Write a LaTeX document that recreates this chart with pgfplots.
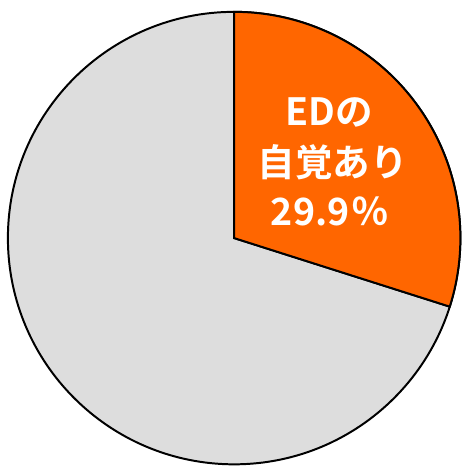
\documentclass[border=0pt]{standalone}
\usepackage{pgfplots}
\usepackage{pgfplotstable}
\usepackage{fontspec}
\pgfplotsset{compat=1.18}
\newfontfamily\jpfont{Noto Sans CJK JP}[BoldFont=* Bold]
\definecolor{edorange}{HTML}{FF6600}
\definecolor{edgray}{HTML}{DDDDDD}

% share of answers, in percent
\pgfplotstableread{
label value
yes 29.9
no 70.1
}\piedata
\pgfplotstablegetelem{0}{value}\of\piedata
\let\yesval\pgfplotsretval

\begin{document}
\begin{tikzpicture}
\begin{axis}[
	width=466pt, height=470pt,
	scale only axis,
	xmin=0, xmax=466, ymin=0, ymax=470,
	hide axis,
	clip=false,
	]
% keep the white margin of the original
\path (axis cs:0,0) rectangle (axis cs:466,470);
% slices, clockwise from 12 o'clock
\pgfmathsetmacro{\yesend}{90-3.6*\yesval}
\filldraw[fill=edgray, draw=black, line width=2pt]
	(axis cs:237,229) -- (axis cs:237,458) arc[start angle=90, end angle=\yesend-360, radius=229pt] -- cycle;
\filldraw[fill=edorange, draw=black, line width=2pt]
	(axis cs:237,229) -- (axis cs:237,458) arc[start angle=90, end angle=\yesend, radius=229pt] -- cycle;
\node[anchor=base, text=white, font=\jpfont\bfseries\fontsize{38}{38}\selectfont]
	at (axis cs:333,343) {EDの};
\node[anchor=base, text=white, font=\jpfont\bfseries\fontsize{38}{38}\selectfont]
	at (axis cs:337,291) {自覚あり};
\node[anchor=base, text=white, font=\jpfont\bfseries\fontsize{38}{38}\selectfont]
	at (axis cs:334,242) {\yesval\kern2pt ％};
\end{axis}
\end{tikzpicture}
\end{document}
